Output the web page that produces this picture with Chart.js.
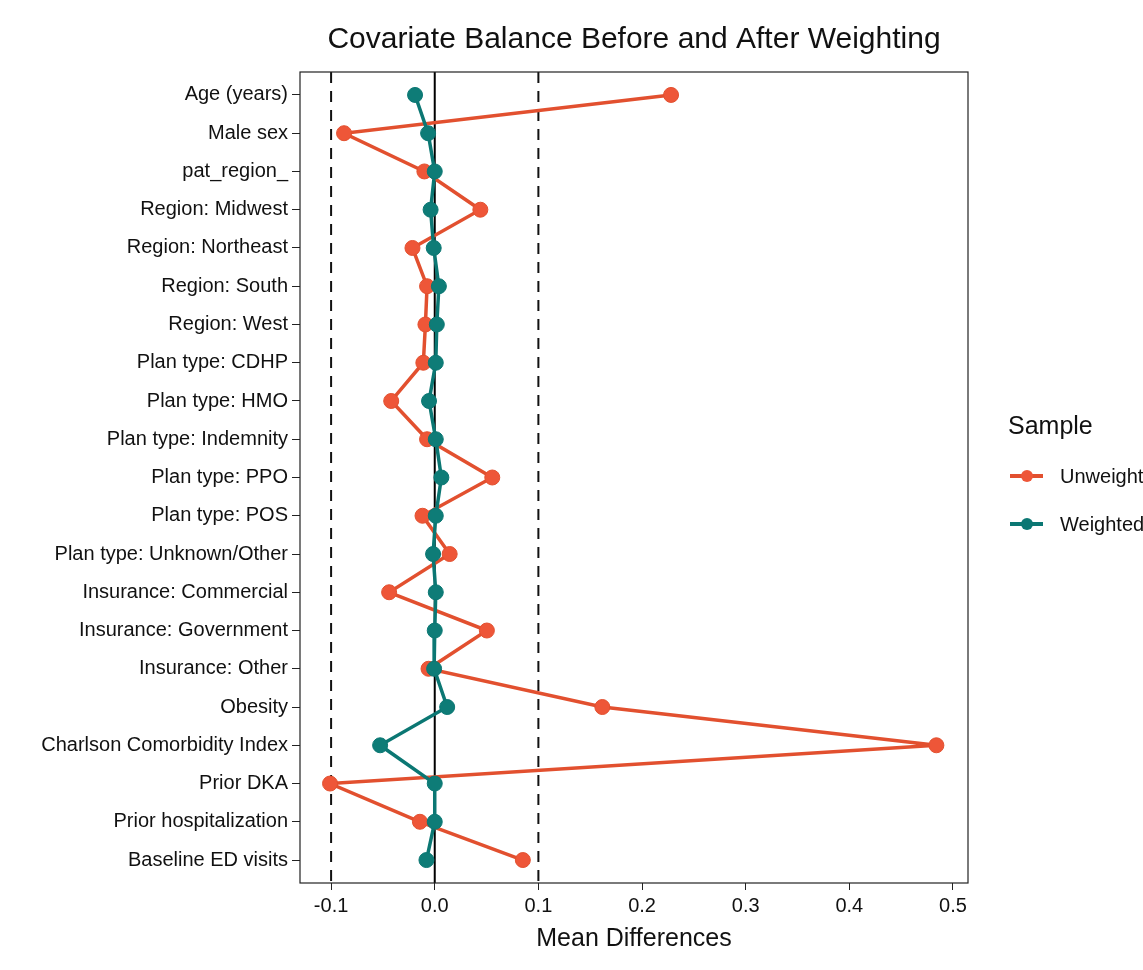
<!DOCTYPE html>
<html>
<head>
  <meta charset="UTF-8">
  <title>Covariate Balance Before and After Weighting</title>
  <script src="https://cdn.jsdelivr.net/npm/chart.js"></script>
  <style>
    body {
      margin: 0;
      background: white;
      font-family: 'Liberation Sans', Arial, sans-serif;
      overflow: hidden;
    }
    .wrap {
      position: relative;
      width: 1143px;
      height: 970px;
      overflow: hidden;
    }
    .legend {
      position: absolute;
      left: 1008px;
      top: 409px;
      color: #111;
      white-space: nowrap;
    }
    .legend h3 {
      margin: 0 0 25px 0;
      font-size: 25px;
      font-weight: normal;
      line-height: 32px;
    }
    .item {
      position: relative;
      height: 48px;
      font-size: 20px;
      line-height: 20px;
    }
    .item .ln {
      position: absolute;
      left: 2px;
      top: 8px;
      width: 33px;
      height: 4px;
    }
    .item .dot {
      position: absolute;
      left: 13px;
      top: 4px;
      width: 12px;
      height: 12px;
      border-radius: 50%;
    }
    .item span.txt {
      position: absolute;
      left: 52px;
      top: 0;
    }
  </style>
</head>
<body>
<div class="wrap">
  <canvas id="balance" width="1143" height="970"></canvas>
  <div class="legend">
    <h3>Sample</h3>
    <div class="item"><div class="ln" style="background:#E2502F"></div><div class="dot" style="background:#EE5638"></div><span class="txt">Unweighted</span></div>
    <div class="item"><div class="ln" style="background:#0B7773"></div><div class="dot" style="background:#0B7773"></div><span class="txt">Weighted</span></div>
  </div>
</div>

<script>
  const covariates = [
    'Age (years)', 'Male sex', 'pat_region_', 'Region: Midwest', 'Region: Northeast',
    'Region: South', 'Region: West', 'Plan type: CDHP', 'Plan type: HMO', 'Plan type: Indemnity',
    'Plan type: PPO', 'Plan type: POS', 'Plan type: Unknown/Other', 'Insurance: Commercial',
    'Insurance: Government', 'Insurance: Other', 'Obesity', 'Charlson Comorbidity Index',
    'Prior DKA', 'Prior hospitalization', 'Baseline ED visits'
  ];
  const unweighted = [
    0.228, -0.0875, -0.010, 0.044, -0.0215,
    -0.0074, -0.009, -0.011, -0.042, -0.0074,
    0.0555, -0.0118, 0.0144, -0.044,
    0.0503, -0.006, 0.1617, 0.484,
    -0.101, -0.0143, 0.085
  ];
  const weighted = [
    -0.019, -0.0064, 0.000, -0.004, -0.001,
    0.004, 0.002, 0.001, -0.0055, 0.001,
    0.0064, 0.001, -0.0016, 0.001,
    0.000, -0.0006, 0.012, -0.0527,
    0.000, 0.000, -0.008
  ];
  const xTicks = [-0.1, 0.0, 0.1, 0.2, 0.3, 0.4, 0.5];
  const thresholds = [-0.1, 0.1];
  const xMin = -0.13, xMax = 0.5145;
  const yMin = -0.6, yMax = covariates.length - 1 + 0.6;

  const toPoints = arr => arr.map((v, i) => ({ x: v, y: i }));
  const vLine = x => [{ x: x, y: yMin }, { x: x, y: yMax }];

  const fontFam = "'Liberation Sans', Arial, sans-serif";

  const panelBox = {
    id: 'panelBox',
    afterDraw(chart) {
      const a = chart.chartArea, ctx = chart.ctx;
      ctx.save();
      ctx.strokeStyle = '#222';
      ctx.lineWidth = 1.2;
      ctx.strokeRect(a.left, a.top, a.right - a.left, a.bottom - a.top);
      ctx.restore();
    }
  };

  const datasets = [];
  thresholds.forEach(t => {
    datasets.push({
      data: vLine(t), showLine: true, borderColor: '#111', borderWidth: 2,
      borderDash: [11, 8], pointRadius: 0, order: 10
    });
  });
  datasets.push({
    data: vLine(0), showLine: true, borderColor: '#000', borderWidth: 2,
    pointRadius: 0, order: 9
  });
  datasets.push({
    label: 'Unweighted', data: toPoints(unweighted), showLine: true,
    borderColor: '#E2502F', borderWidth: 3.5, backgroundColor: '#EE5638',
    pointBackgroundColor: '#EE5638', pointBorderColor: '#E2502F', pointBorderWidth: 1,
    pointRadius: 7.5, order: 2
  });
  datasets.push({
    label: 'Weighted', data: toPoints(weighted), showLine: true,
    borderColor: '#0B7773', borderWidth: 3.5, backgroundColor: '#0B7773',
    pointBackgroundColor: '#0E7C77', pointBorderColor: '#0B7773', pointBorderWidth: 1,
    pointRadius: 7.5, order: 1
  });

  new Chart(document.getElementById('balance'), {
    type: 'scatter',
    data: { datasets: datasets },
    options: {
      responsive: false,
      animation: false,
      layout: { padding: { top: 0, right: 175, bottom: 0, left: 0 } },
      plugins: {
        legend: { display: false },
        tooltip: { enabled: false },
        title: {
          display: true,
          fullSize: false,
          text: 'Covariate Balance Before and After Weighting',
          color: '#111',
          font: { family: fontFam, size: 30, weight: 'normal' },
          padding: { top: 22, bottom: 14 }
        }
      },
      scales: {
        x: {
          type: 'linear',
          min: xMin, max: xMax,
          afterFit(scale) { scale.height = 87; },
          afterBuildTicks(scale) { scale.ticks = xTicks.map(v => ({ value: v })); },
          border: { display: false },
          grid: { drawOnChartArea: false, drawTicks: true, tickLength: 7, color: '#222' },
          ticks: {
            color: '#111', padding: 4,
            font: { family: fontFam, size: 20 },
            callback: v => v.toFixed(1)
          },
          title: {
            display: true, text: 'Mean Differences', color: '#111',
            font: { family: fontFam, size: 25 },
            padding: { top: 0, bottom: 16 }
          }
        },
        y: {
          type: 'linear',
          reverse: true,
          min: yMin, max: yMax,
          afterFit(scale) { scale.width = 300; },
          afterBuildTicks(scale) { scale.ticks = covariates.map((c, i) => ({ value: i })); },
          border: { display: false },
          grid: { drawOnChartArea: false, drawTicks: true, tickLength: 8, color: '#222' },
          ticks: {
            color: '#111', padding: 4, autoSkip: false,
            font: { family: fontFam, size: 20 },
            callback: v => covariates[v]
          }
        }
      }
    },
    plugins: [panelBox]
  });
</script>
</body>
</html>
